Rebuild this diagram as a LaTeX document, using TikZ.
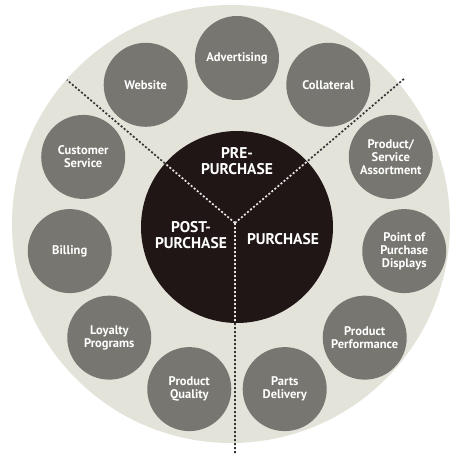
\documentclass[tikz,border=0pt]{standalone}
\usepackage{fontspec}
\setmainfont{PT Sans}
\definecolor{ringbg}{RGB}{228,227,218}
\definecolor{touchgray}{RGB}{119,118,112}
\definecolor{coredark}{RGB}{33,22,22}
\begin{document}
\begin{tikzpicture}[x=1pt,y=1pt,
        touch/.style={circle,fill=touchgray,minimum size=84pt,inner sep=0pt,text=white,align=center,font=\bfseries\fontsize{12.5}{13}\selectfont},
        core/.style={circle,fill=coredark,minimum size=192pt,inner sep=0pt},
        phase/.style={text=white,align=center,font=\bfseries\fontsize{15.5}{16}\selectfont},
        divider/.style={line width=1.7pt,dash pattern=on 2pt off 2pt}]
        \useasboundingbox (-237,-228) rectangle (217,227);
        \fill[ringbg] (-6,3) circle (219pt);
        \coordinate (hub) at (-2,4);
        \coordinate (leftcut) at (-170,147);
        \coordinate (rightcut) at (168,149);
        \coordinate (downcut) at (-2,-228);
        \draw[divider,black!80] (hub) -- (leftcut) (hub) -- (rightcut) (hub) -- (downcut);
        \node[core] (core) at (0,0) {};
        \begin{scope}
            \clip (0,0) circle (96pt);
            \draw[divider,white!90!black] (hub) -- (leftcut) (hub) -- (rightcut) (hub) -- (downcut);
        \end{scope}
        \node[phase] (pre) at (0,66) {PRE-\\PURCHASE};
        \node[phase] (post) at (-46,-8) {POST-\\PURCHASE};
        \node[phase] (purchase) at (46,-12) {PURCHASE};
        \node[touch] (advert) at (90:169pt) {Advertising};
        \node[touch] (website) at (122.7:169pt) {Website};
        \node[touch] (custserv) at (155.5:169pt) {Customer\\Service};
        \node[touch] (billing) at (188.2:169pt) {Billing};
        \node[touch] (loyalty) at (220.9:169pt) {Loyalty\\Programs};
        \node[touch] (quality) at (253.6:169pt) {Product\\Quality};
        \node[touch] (parts) at (286.4:169pt) {Parts\\Delivery};
        \node[touch] (perform) at (319.1:169pt) {Product\\Performance};
        \node[touch] (displays) at (351.8:169pt) {Point of\\Purchase\\Displays};
        \node[touch] (assort) at (24.5:169pt) {Product/\\Service\\Assortment};
        \node[touch] (collateral) at (57.3:169pt) {Collateral};
\end{tikzpicture}
\end{document}
